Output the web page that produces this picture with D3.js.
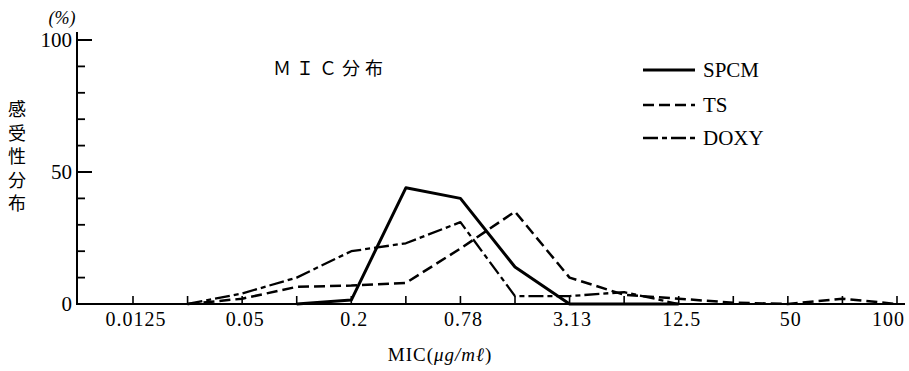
<!DOCTYPE html>
<html><head><meta charset="utf-8">
<script src="https://cdn.jsdelivr.net/npm/d3@7"></script>
<style>
html,body{margin:0;padding:0;background:#fff;}
svg{display:block;}
</style></head>
<body>
<svg id="chart" width="909" height="371"></svg>
<script>
// MIC categories (µg/ml), evenly spaced on the x axis
const categories = ["0.0125","0.025","0.05","0.1","0.2","0.39","0.78","1.56","3.13","6.25","12.5","25","50","100","200"];
// tick labels shown under the axis (every other category)
const tickLabels = {"0.0125":"0.0125","0.05":"0.05","0.2":"0.2","0.78":"0.78","3.13":"3.13","12.5":"12.5","50":"50","200":"100"};
const yTicksMajor = [0, 50, 100];
const yTicksMinor = [10, 20, 30, 40, 60, 70, 80, 90];
const seriesNames = ["SPCM", "TS", "DOXY"];
const spcm = [null, null, null, 0, 1.5, 44, 40, 14, 0, 0, 0, null, null, null, null];
const ts   = [null, 0, 2, 6.5, 7, 8, 21, 35, 10, 3.5, 2, 0.5, 0, 2, 0];
const doxy = [null, 0, 4, 10, 20, 23, 31, 3, 3, 4.5, 0, null, null, null, null];

const svg = d3.select("#chart");
const x = d3.scalePoint().domain(categories).range([133, 897]);
const y = d3.scaleLinear().domain([0, 100]).range([304, 40]);
const X0 = 77;
const serif = "'Liberation Serif','DejaVu Serif',serif";
const cjk = "'Noto Sans CJK JP','Noto Sans CJK SC',sans-serif";

// Y axis
const yAxis = svg.append("g").attr("stroke", "#000").attr("fill", "none");
yAxis.append("line").attr("x1", X0).attr("x2", X0).attr("y1", y(0)).attr("y2", y(100) - 8).attr("stroke-width", 2);
yAxis.selectAll(".mj").data(yTicksMajor.filter(d => d > 0)).join("line")
  .attr("x1", X0).attr("x2", X0 + 15).attr("y1", d => y(d)).attr("y2", d => y(d)).attr("stroke-width", 2);
yAxis.selectAll(".mn").data(yTicksMinor).join("line")
  .attr("x1", X0).attr("x2", X0 + 8).attr("y1", d => y(d)).attr("y2", d => y(d)).attr("stroke-width", 1.8);
svg.append("g").selectAll("text").data(yTicksMajor).join("text")
  .attr("x", X0 - 5).attr("y", d => y(d) + 7)
  .attr("text-anchor", "end").attr("font-family", serif).attr("font-size", 21)
  .text(d => d);
svg.append("text").attr("x", 62).attr("y", 24).attr("text-anchor", "middle")
  .attr("font-family", serif).attr("font-style", "italic").attr("font-size", 18).text("(%)");

// Y label vertical
const ylab = ["感", "受", "性", "分", "布"];
svg.append("g").selectAll("text").data(ylab).join("text")
  .attr("x", 17).attr("y", (d, i) => 116 + i * 23.5)
  .attr("text-anchor", "middle").attr("font-family", cjk).attr("font-size", 18)
  .text(d => d);

// X axis
const xAxis = svg.append("g").attr("stroke", "#000");
xAxis.append("line").attr("x1", X0 - 1).attr("x2", 905).attr("y1", y(0)).attr("y2", y(0)).attr("stroke-width", 2);
xAxis.selectAll(".t").data(categories).join("line")
  .attr("x1", d => x(d)).attr("x2", d => x(d)).attr("y1", y(0)).attr("y2", y(0) - 8).attr("stroke-width", 1.6);
const last = categories[categories.length - 1];
svg.append("g").selectAll("text").data(categories.filter(c => tickLabels[c])).join("text")
  .attr("x", d => d === last ? x(d) + 8 : x(d) + 3)
  .attr("y", 326)
  .attr("text-anchor", d => d === last ? "end" : "middle")
  .attr("font-family", serif).attr("font-size", 20).attr("letter-spacing", 1)
  .text(d => tickLabels[d]);
const xt = svg.append("text").attr("x", 440).attr("y", 361).attr("text-anchor", "middle")
  .attr("font-family", serif).attr("font-size", 19).attr("letter-spacing", 1);
xt.append("tspan").text("MIC(");
xt.append("tspan").attr("font-style", "italic").text("μg/mℓ");
xt.append("tspan").text(")");

// Title
svg.append("text").attr("x", 273).attr("y", 75).attr("font-family", cjk).attr("font-size", 18)
  .attr("letter-spacing", 5).text("ＭＩＣ分布");

// Lines
const styles = {
  SPCM: {w: 3, dash: null},
  TS: {w: 2.5, dash: "11,5"},
  DOXY: {w: 2.3, dash: "15,4,5,4"}
};
const dataBy = {SPCM: spcm, TS: ts, DOXY: doxy};
const line = d3.line().defined(d => d.v !== null).x(d => x(d.c)).y(d => y(d.v));
seriesNames.forEach(name => {
  const pts = categories.map((c, i) => ({c, v: dataBy[name][i]}));
  svg.append("path").datum(pts).attr("d", line)
    .attr("fill", "none").attr("stroke", "#000").attr("stroke-width", styles[name].w)
    .attr("stroke-dasharray", styles[name].dash).attr("stroke-linejoin", "round");
});

// Legend
const lg = svg.append("g");
const legY = [70, 105, 138];
seriesNames.forEach((name, i) => {
  lg.append("line").attr("x1", 643).attr("x2", 695).attr("y1", legY[i]).attr("y2", legY[i])
    .attr("stroke", "#000").attr("stroke-width", styles[name].w).attr("stroke-dasharray", styles[name].dash);
  lg.append("text").attr("x", 703).attr("y", legY[i] + 7).attr("font-family", serif).attr("font-size", 21)
    .text(name);
});
</script>
</body></html>
